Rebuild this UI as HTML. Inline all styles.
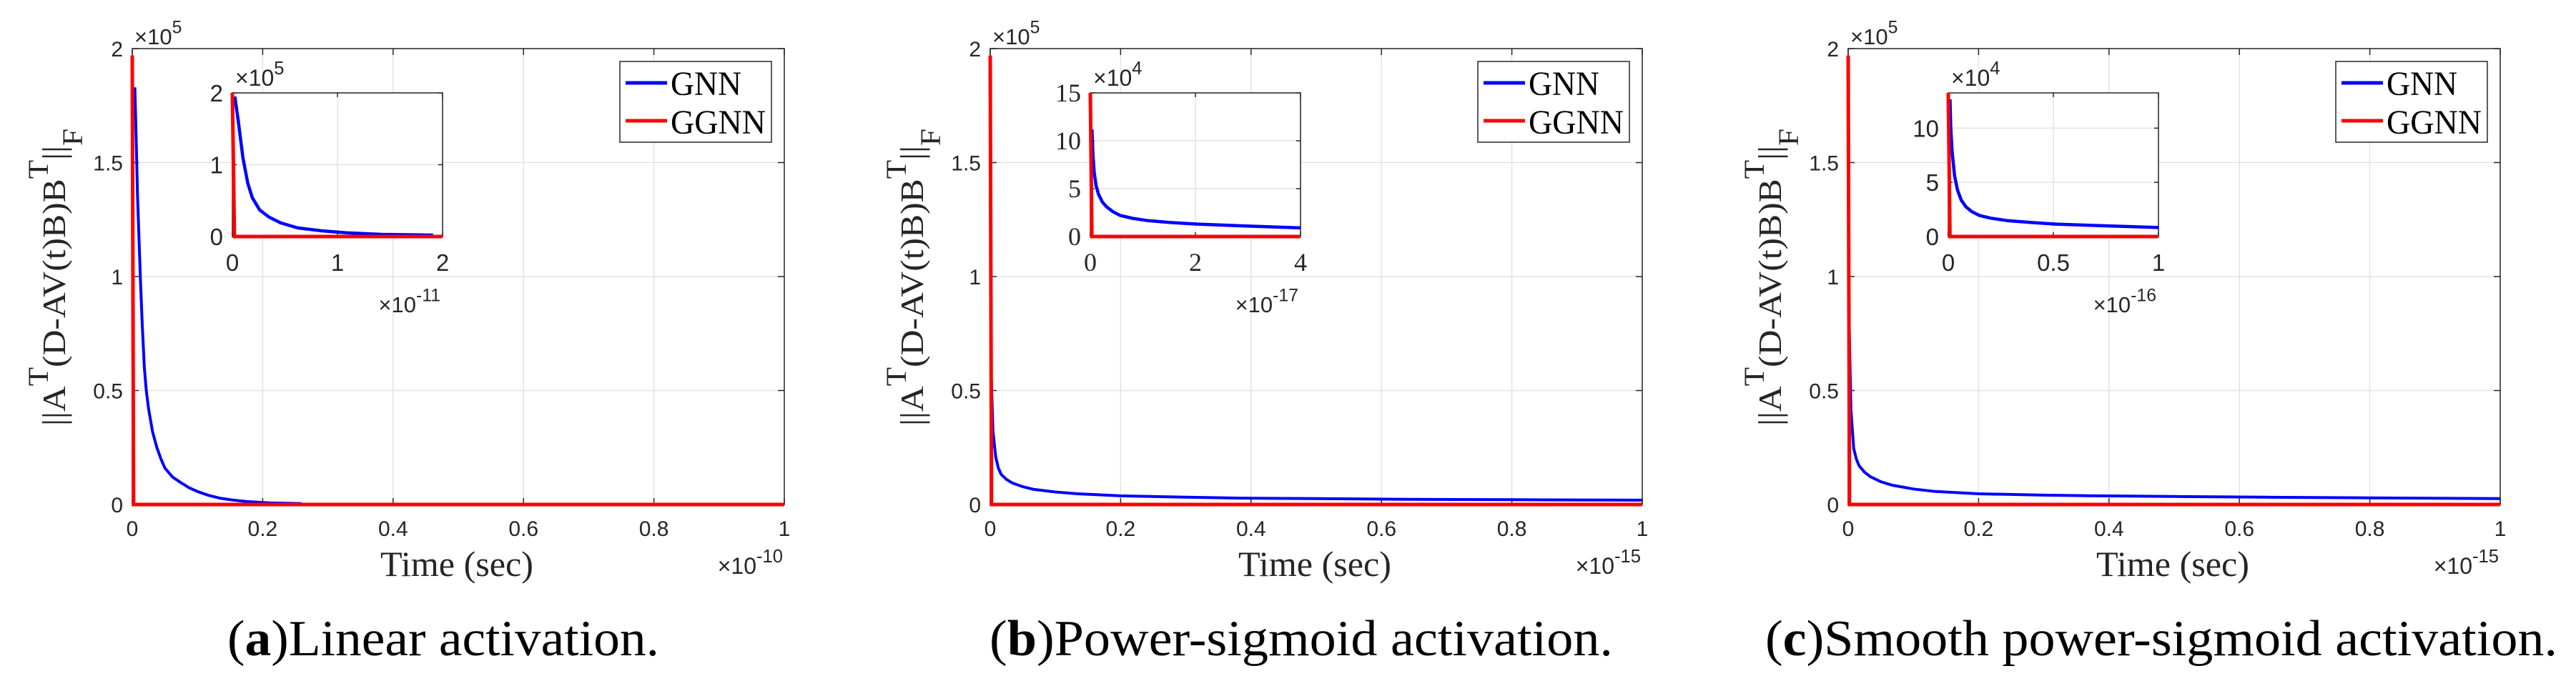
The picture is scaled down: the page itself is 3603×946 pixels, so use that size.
<!DOCTYPE html>
<html><head><meta charset="utf-8"><style>
html,body{margin:0;padding:0;background:#fff;}
svg{display:block;}
</style></head><body>
<svg id="fig" width="3603" height="946" viewBox="0 0 3603 946" xmlns="http://www.w3.org/2000/svg"></svg>
<script>
// ---- data ----
const mainXTicks = [0,0.2,0.4,0.6,0.8,1];
const mainXTickLabels = ["0","0.2","0.4","0.6","0.8","1"];
const mainYTicks = [0,0.5,1,1.5,2];
const mainYTickLabels = ["0","0.5","1","1.5","2"];

const aGnnX = [0.004,0.006,0.008,0.0105,0.0126,0.0155,0.0185,0.0215,0.025,0.031,0.0377,0.044,0.05,0.062,0.075,0.087,0.1,0.117,0.134,0.155,0.176,0.21,0.26];
const aGnnY = [1.83,1.6,1.36,1.15,0.98,0.78,0.60,0.50,0.42,0.32,0.25,0.2,0.16,0.12,0.095,0.074,0.057,0.04,0.028,0.019,0.013,0.007,0.004];
const aGgnnX = [0,0.002,1];
const aGgnnY = [1.97,0,0];
const aInGnnX = [0.023,0.057,0.10,0.147,0.19,0.26,0.35,0.46,0.62,0.85,1.08,1.42,1.91];
const aInGnnY = [1.95,1.6,1.10,0.74,0.54,0.37,0.27,0.19,0.12,0.08,0.053,0.03,0.02];
const aInGgnnX = [0,0.02,2];
const aInGgnnY = [2,0,0];

const bGnnX = [0.0017,0.0042,0.0084,0.0125,0.0168,0.025,0.0336,0.05,0.067,0.1,0.134,0.2,0.3,0.386,0.5,0.64,0.8,1];
const bGnnY = [0.549,0.322,0.208,0.16,0.132,0.11,0.095,0.078,0.066,0.055,0.047,0.038,0.032,0.028,0.026,0.023,0.021,0.019];
const bGgnnX = [0,0.002,1];
const bGgnnY = [1.97,0,0];
const bInGnnX = [0.031,0.05,0.073,0.11,0.157,0.23,0.31,0.43,0.57,0.8,1.1,1.5,2.04,2.87,4];
const bInGnnY = [11.2,8.5,6.7,5.3,4.4,3.6,3.1,2.6,2.2,1.9,1.66,1.47,1.3,1.12,0.9];
const bInGgnnX = [0,0.03,4];
const bInGgnnY = [15,0,0];

const cGnnX = [0.0017,0.0042,0.0084,0.0125,0.0168,0.025,0.0336,0.05,0.067,0.1,0.134,0.2,0.3,0.386,0.5,0.64,0.8,1];
const cGnnY = [0.757,0.416,0.246,0.2,0.17,0.142,0.123,0.1,0.085,0.068,0.057,0.047,0.041,0.038,0.035,0.032,0.029,0.026];
const cGgnnX = [0,0.002,1];
const cGgnnY = [1.97,0,0];
const cInGnnX = [0.008,0.012,0.018,0.03,0.044,0.062,0.084,0.112,0.149,0.2,0.28,0.39,0.51,0.72,1];
const cInGnnY = [12.65,10,7.9,5.6,4.3,3.35,2.74,2.3,1.94,1.7,1.47,1.3,1.15,1.0,0.83];
const cInGgnnX = [0,0.008,1];
const cInGgnnY = [13.25,0,0];

const panels = [
 {id:'a', ox:0, xexp:'-10', gnnX:aGnnX,gnnY:aGnnY,ggX:aGgnnX,ggY:aGgnnY,
  inX:[0,2],inY:[0,2],inXT:[0,1,2],inXL:["0","1","2"],inYT:[0,1,2],inYL:["0","1","2"],inSerif:false,inYExp:'5',inXExp:'-11',
  inGX:aInGnnX,inGY:aInGnnY,inRX:aInGgnnX,inRY:aInGgnnY,
  capBold:'a',capText:'Linear activation.',capX:318,capW:604},
 {id:'b', ox:1200, xexp:'-15', gnnX:bGnnX,gnnY:bGnnY,ggX:bGgnnX,ggY:bGgnnY,
  inX:[0,4],inY:[0,15],inXT:[0,2,4],inXL:["0","2","4"],inYT:[0,5,10,15],inYL:["0","5","10","15"],inSerif:true,inYExp:'4',inXExp:'-17',
  inGX:bInGnnX,inGY:bInGnnY,inRX:bInGgnnX,inRY:bInGgnnY,
  capBold:'b',capText:'Power-sigmoid activation.',capX:1384,capW:872},
 {id:'c', ox:2400, xexp:'-15', gnnX:cGnnX,gnnY:cGnnY,ggX:cGgnnX,ggY:cGgnnY,
  inX:[0,1],inY:[0,13.25],inXT:[0,0.5,1],inXL:["0","0.5","1"],inYT:[0,5,10],inYL:["0","5","10"],inSerif:false,inYExp:'4',inXExp:'-16',
  inGX:cInGnnX,inGY:cInGnnY,inRX:cInGgnnX,inRY:cInGgnnY,
  capBold:'c',capText:'Smooth power-sigmoid activation.',capX:2469,capW:1108}
];

const NS='http://www.w3.org/2000/svg';
const svg=document.getElementById('fig');
function mk(tag,attrs,parent,txt){const e=document.createElementNS(NS,tag);for(const k in attrs)e.setAttribute(k,attrs[k]);if(txt!==undefined)e.textContent=txt;(parent||svg).appendChild(e);return e;}
const SANS='"Liberation Sans", sans-serif', SERIF='"Liberation Serif", serif';

function pathFrom(xs,ys,sx,sy){return xs.map((x,i)=>(i?'L':'M')+sx(x).toFixed(1)+' '+sy(ys[i]).toFixed(1)).join(' ');}

function expLabel(g,x,y,base,exp,size,anchor){
  const t=mk('text',{x:x,y:y,'font-family':SANS,'font-size':size,fill:'#262626','text-anchor':anchor||'start'},g);
  
  
  mk('tspan',{},t,'\u00d7'+base);
  mk('tspan',{dy:-size*0.5,'font-size':size*0.8},t,exp);
  return t;
}

panels.forEach(p=>{
  const g=mk('g',{transform:'translate('+p.ox+',0)'});
  
  
  const X0=185,X1=1097,Y0=68,Y1=706;
  const sx=v=>X0+(v-0)/(1-0)*(X1-X0);
  const sy=v=>Y1-(v-0)/(2-0)*(Y1-Y0);
  const grid=mk('g',{stroke:'#e3e3e3','stroke-width':1.5},g);
  
  
  mainXTicks.forEach(v=>mk('line',{x1:sx(v),x2:sx(v),y1:Y0,y2:Y1},grid));
  mainYTicks.forEach(v=>mk('line',{x1:X0,x2:X1,y1:sy(v),y2:sy(v)},grid));
  const box=mk('rect',{x:X0,y:Y0,width:X1-X0,height:Y1-Y0,fill:'none',stroke:'#262626','stroke-width':1.5},g);
  
  
  mainXTicks.forEach((v,i)=>{
    mk('line',{x1:sx(v),x2:sx(v),y1:Y1,y2:Y1-9,stroke:'#262626','stroke-width':1.5},g);
    mk('line',{x1:sx(v),x2:sx(v),y1:Y0,y2:Y0+9,stroke:'#262626','stroke-width':1.5},g);
    const t=mk('text',{x:sx(v),y:750,'font-family':SANS,'font-size':30,fill:'#262626','text-anchor':'middle'},g,mainXTickLabels[i]);
    
    
  });
  mainYTicks.forEach((v,i)=>{
    mk('line',{x1:X0,x2:X0+9,y1:sy(v),y2:sy(v),stroke:'#262626','stroke-width':1.5},g);
    mk('line',{x1:X1,x2:X1-9,y1:sy(v),y2:sy(v),stroke:'#262626','stroke-width':1.5},g);
    const t=mk('text',{x:172,y:sy(v)+11,'font-family':SANS,'font-size':30,fill:'#262626','text-anchor':'end'},g,mainYTickLabels[i]);
    
    
  });
  expLabel(g,188,62,'10','5',31);
  expLabel(g,1095,803,'10',p.xexp,32,'end');
  const xt=mk('text',{x:532,y:806,'font-family':SERIF,'font-size':50,fill:'#262626',textLength:214,lengthAdjust:'spacingAndGlyphs'},g,'Time (sec)');
  
  
  const yt=mk('text',{x:0,y:0,'font-family':SERIF,'font-size':46,fill:'#262626',transform:'translate(91,596) rotate(-90)',textLength:416,lengthAdjust:'spacingAndGlyphs'},g);
  
  
  mk('tspan',{},yt,'||A');
  mk('tspan',{dy:-24,'font-size':40},yt,'T');
  mk('tspan',{dy:24},yt,'(D-AV(t)B)B');
  mk('tspan',{dy:-24,'font-size':40},yt,'T');
  mk('tspan',{dy:24},yt,'||');
  mk('tspan',{dy:24,'font-size':40},yt,'F');
  const cid='clip-'+p.id;
  const cp=mk('clipPath',{id:cid},g);
  mk('rect',{x:X0-3,y:Y0-3,width:X1-X0+6,height:Y1-Y0+6},cp);
  const gl=mk('path',{d:pathFrom(p.gnnX,p.gnnY,sx,sy),fill:'none',stroke:'#0000ff','stroke-width':4,'stroke-linejoin':'round','clip-path':'url(#'+cid+')'},g);
  
  
  const rl=mk('path',{d:pathFrom(p.ggX,p.ggY,sx,sy),fill:'none',stroke:'#ff0000','stroke-width':5,'clip-path':'url(#'+cid+')'},g);
  
  
  const lg=mk('g',{},g);
  
  
  mk('rect',{x:867,y:86,width:212,height:113,fill:'#fff',stroke:'#262626','stroke-width':1.5},lg);
  mk('line',{x1:875,x2:933,y1:116,y2:116,stroke:'#0000ff','stroke-width':5},lg);
  mk('line',{x1:875,x2:933,y1:169,y2:169,stroke:'#ff0000','stroke-width':5},lg);
  const l1=mk('text',{x:938,y:133,'font-family':SERIF,'font-size':48,fill:'#000',textLength:99,lengthAdjust:'spacingAndGlyphs'},lg,'GNN');
  
  
  const l2=mk('text',{x:938,y:187,'font-family':SERIF,'font-size':48,fill:'#000',textLength:133,lengthAdjust:'spacingAndGlyphs'},lg,'GGNN');
  
  
  // inset
  const ig=mk('g',{},g);
  
  
  const IX0=325,IX1=619,IY0=130,IY1=331;
  const isx=v=>IX0+(v-p.inX[0])/(p.inX[1]-p.inX[0])*(IX1-IX0);
  const isy=v=>IY1-(v-p.inY[0])/(p.inY[1]-p.inY[0])*(IY1-IY0);
  mk('rect',{x:IX0,y:IY0,width:IX1-IX0,height:IY1-IY0,fill:'#fff'},ig);
  p.inXT.forEach(v=>mk('line',{x1:isx(v),x2:isx(v),y1:IY0,y2:IY1,stroke:'#e3e3e3','stroke-width':1.5},ig));
  p.inYT.forEach(v=>mk('line',{x1:IX0,x2:IX1,y1:isy(v),y2:isy(v),stroke:'#e3e3e3','stroke-width':1.5},ig));
  mk('rect',{x:IX0,y:IY0,width:IX1-IX0,height:IY1-IY0,fill:'none',stroke:'#262626','stroke-width':1.5},ig);
  const ifont=p.inSerif?SERIF:SANS;
  const ifs=p.inSerif?36:33;
  p.inXT.forEach((v,i)=>{
    mk('line',{x1:isx(v),x2:isx(v),y1:IY1,y2:IY1-6,stroke:'#262626','stroke-width':1.5},ig);
    mk('line',{x1:isx(v),x2:isx(v),y1:IY0,y2:IY0+6,stroke:'#262626','stroke-width':1.5},ig);
    const t=mk('text',{x:isx(v),y:379,'font-family':ifont,'font-size':ifs,fill:'#262626','text-anchor':'middle'},ig,p.inXL[i]);
    
    
  });
  p.inYT.forEach((v,i)=>{
    mk('line',{x1:IX0,x2:IX0+6,y1:isy(v),y2:isy(v),stroke:'#262626','stroke-width':1.5},ig);
    mk('line',{x1:IX1,x2:IX1-6,y1:isy(v),y2:isy(v),stroke:'#262626','stroke-width':1.5},ig);
    const t=mk('text',{x:312,y:isy(v)+12,'font-family':ifont,'font-size':ifs,fill:'#262626','text-anchor':'end'},ig,p.inYL[i]);
    
    
  });
  expLabel(ig,329,120,'10',p.inYExp,32);
  expLabel(ig,616,437,'10',p.inXExp,31,'end');
  const icid='iclip-'+p.id;
  const icp=mk('clipPath',{id:icid},ig);
  mk('rect',{x:IX0-3,y:IY0-3,width:IX1-IX0+6,height:IY1-IY0+6},icp);
  const igl=mk('path',{d:pathFrom(p.inGX,p.inGY,isx,isy),fill:'none',stroke:'#0000ff','stroke-width':4.5,'stroke-linejoin':'round','clip-path':'url(#'+icid+')'},ig);
  
  
  const irl=mk('path',{d:pathFrom(p.inRX,p.inRY,isx,isy),fill:'none',stroke:'#ff0000','stroke-width':5,'clip-path':'url(#'+icid+')'},ig);
  
  
  const cap=mk('text',{x:p.capX-p.ox,y:917,'font-family':SERIF,'font-size':71,fill:'#000',textLength:p.capW,lengthAdjust:'spacingAndGlyphs'},g);
  
  
  mk('tspan',{},cap,'(');
  mk('tspan',{'font-weight':'bold'},cap,p.capBold);
  mk('tspan',{},cap,')'+p.capText);
});
</script>
</body></html>
